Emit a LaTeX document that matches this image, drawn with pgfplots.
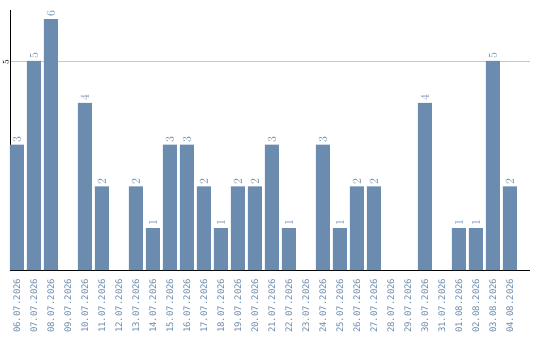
\documentclass[border=0pt]{standalone}
\usepackage{pgfplots}
\pgfplotsset{compat=1.18}
\usepackage{fontspec}
\setmainfont{DejaVu Sans}
\setmonofont{DejaVu Sans Mono}
\usetikzlibrary{calc}
\definecolor{barblue}{HTML}{6B8CAE}
\definecolor{labblue}{HTML}{6A8AAC}
\begin{document}
\begin{tikzpicture}
\begin{axis}[
  scale only axis, width=520pt, height=260pt,
  xmin=-0.41, xmax=30.18, ymin=0, ymax=6.22,
  axis x line*=bottom, axis y line*=left,
  axis line style={-, black, line width=0.8pt},
  clip=false,
  major tick length=0pt,
  ytick={5}, ymajorgrids,
  grid style={draw=black!22, line width=0.7pt},
  yticklabel style={rotate=90, anchor=south, inner sep=1pt, xshift=-1.5pt,
    font=\ttfamily\fontsize{9}{9}\selectfont, text=black},
  xtick={0,...,29},
  xticklabels={06.07.2026,07.07.2026,08.07.2026,09.07.2026,10.07.2026,11.07.2026,12.07.2026,13.07.2026,14.07.2026,15.07.2026,16.07.2026,17.07.2026,18.07.2026,19.07.2026,20.07.2026,21.07.2026,22.07.2026,23.07.2026,24.07.2026,25.07.2026,26.07.2026,27.07.2026,28.07.2026,29.07.2026,30.07.2026,31.07.2026,01.08.2026,02.08.2026,03.08.2026,04.08.2026},
  xticklabel style={rotate=90, anchor=east, inner sep=0pt, xshift=-0.5pt,
    font=\ttfamily\fontsize{9}{9}\selectfont, text=labblue},
  xticklabel shift=8pt,
  nodes near coords,
  every node near coord/.append style={rotate=90, anchor=west, inner sep=2pt,
    font=\ttfamily\fontsize{11.5}{11.5}\selectfont, text=labblue},
]
\addplot[ybar, bar width=14pt, fill=barblue, draw=none] coordinates {
  (0,3)(1,5)(2,6)(4,4)(5,2)(7,2)(8,1)(9,3)(10,3)(11,2)(12,1)(13,2)(14,2)
  (15,3)(16,1)(18,3)(19,1)(20,2)(21,2)(24,4)(26,1)(27,1)(28,5)(29,2)
};
\end{axis}
\path[use as bounding box] ($(current axis.south west)+(-10pt,-70pt)$)
  rectangle ($(current axis.north east)+(10pt,10pt)$);
\end{tikzpicture}
\end{document}
